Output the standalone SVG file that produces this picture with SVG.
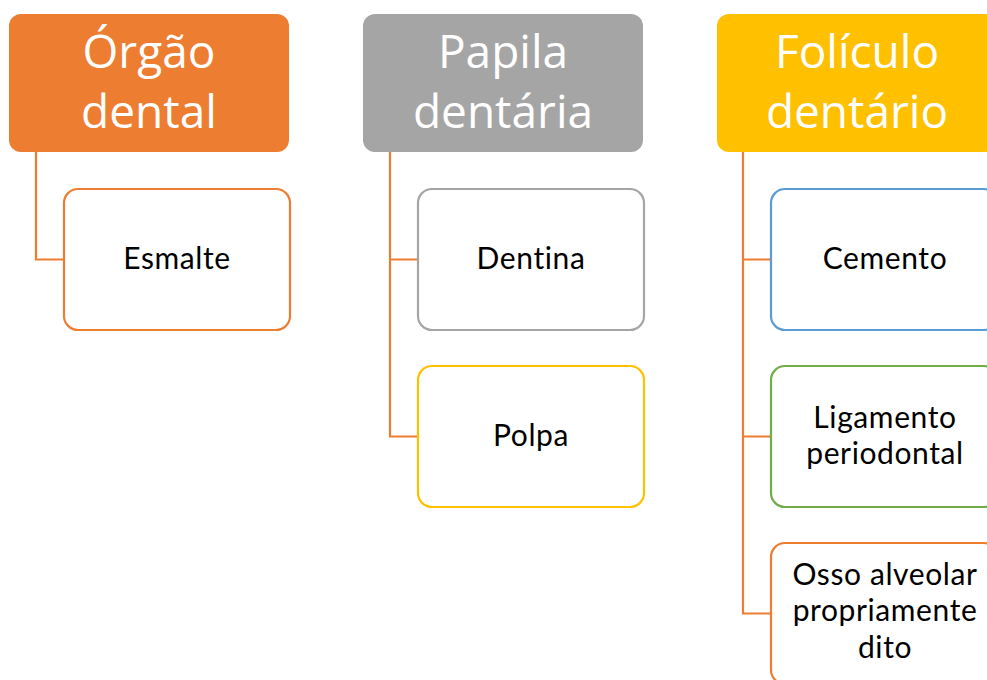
<svg xmlns="http://www.w3.org/2000/svg" width="987" height="680" viewBox="0 0 987 680">
<style>
.hdr{stroke:none}
.ht{font-family:"Open Sans","Noto Sans",sans-serif;font-size:46px;fill:#fff;text-anchor:middle}
.cb{fill:#fff;stroke-width:2.2}
.ct{font-family:Lato,"Open Sans",sans-serif;font-size:30px;letter-spacing:0.6px;font-variant-ligatures:none;fill:#000;text-anchor:middle}
.con{fill:none;stroke:#ED7D31;stroke-width:2.2}
</style>
<rect width="987" height="680" fill="#fff"/>
<g id="connectors">
<path class="con" d="M36 152 V259.5 H64"/>
<path class="con" d="M390 152 V436.5 H418 M390 259.5 H418"/>
<path class="con" d="M743 152 V613.5 H771 M743 259.5 H771 M743 436.5 H771"/>
</g>
<g id="orgao">
<rect class="hdr" x="9" y="14" width="280" height="138" rx="12" fill="#ED7D31"/>
<text class="ht" x="149" y="68">Órgão</text>
<text class="ht" x="149" y="128">dental</text>
</g>
<g id="esmalte">
<rect class="cb" x="64" y="189" width="226" height="141" rx="14" stroke="#ED7D31"/>
<text class="ct" x="177" y="269">Esmalte</text>
</g>
<g id="papila">
<rect class="hdr" x="363" y="14" width="280" height="138" rx="12" fill="#A5A5A5"/>
<text class="ht" x="503" y="68">Papila</text>
<text class="ht" x="503" y="128">dentária</text>
</g>
<g id="dentina">
<rect class="cb" x="418" y="189" width="226" height="141" rx="14" stroke="#A5A5A5"/>
<text class="ct" x="531" y="269">Dentina</text>
</g>
<g id="polpa">
<rect class="cb" x="418" y="366" width="226" height="141" rx="14" stroke="#FFC000"/>
<text class="ct" x="531" y="446">Polpa</text>
</g>
<g id="foliculo">
<rect class="hdr" x="717" y="14" width="280" height="138" rx="12" fill="#FFC000"/>
<text class="ht" x="857" y="68">Folículo</text>
<text class="ht" x="857" y="128">dentário</text>
</g>
<g id="cemento">
<rect class="cb" x="771" y="189" width="227" height="141" rx="14" stroke="#5B9BD5"/>
<text class="ct" x="885" y="269">Cemento</text>
</g>
<g id="ligamento">
<rect class="cb" x="771" y="366" width="227" height="141" rx="14" stroke="#70AD47"/>
<text class="ct" x="885" y="428">Ligamento</text>
<text class="ct" x="885" y="464">periodontal</text>
</g>
<g id="osso">
<rect class="cb" x="771" y="543" width="227" height="141" rx="14" stroke="#ED7D31"/>
<text class="ct" x="885" y="585">Osso alveolar</text>
<text class="ct" x="885" y="621">propriamente</text>
<text class="ct" x="885" y="658">dito</text>
</g>
</svg>
